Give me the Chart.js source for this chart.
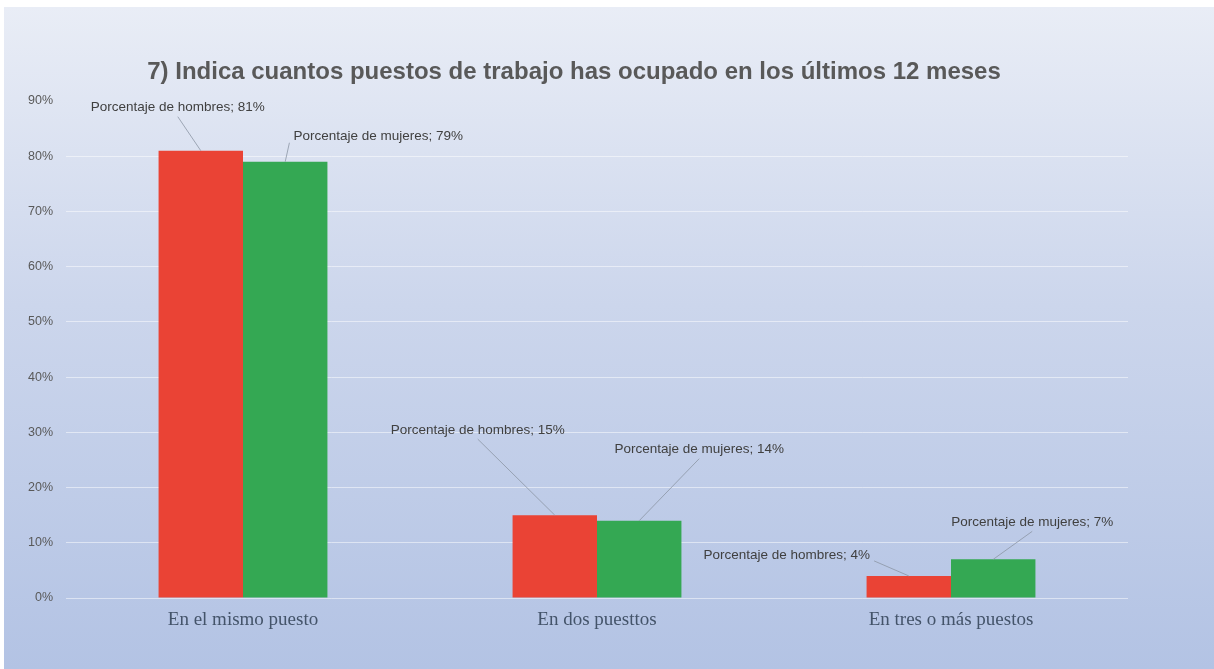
<!DOCTYPE html>
<html lang="es">
<head>
    <meta charset="UTF-8">
    <title>Puestos de trabajo ocupados</title>
    <script src="https://cdn.jsdelivr.net/npm/chart.js"></script>
    <style>
        html, body { margin: 0; padding: 0; background: #ffffff; }
        #wrap { width: 1214px; height: 669px; }
    </style>
</head>
<body>
    <div id="wrap"><canvas id="grafica" width="1214" height="669"></canvas></div>

    <script>
        // Datos de la encuesta (fracciones de 1)
        const categorias = ['En el mismo puesto', 'En dos puesttos', 'En tres o más puestos'];
        const hombres = [0.81, 0.15, 0.04];
        const mujeres = [0.79, 0.14, 0.07];
        const nombresSeries = ['Porcentaje de hombres', 'Porcentaje de mujeres'];
        const marcasEje = [0, 0.1, 0.2, 0.3, 0.4, 0.5, 0.6, 0.7, 0.8, 0.9];

        const titulo = '7) Indica cuantos puestos de trabajo has ocupado en los últimos 12 meses';

        // Posición de cada etiqueta respecto a la parte alta de su barra [serie][categoría]
        const desplEtiquetas = [
            [[-23, -43], [-77, -85], [-122, -21]],
            [[93, -25], [60, -71], [39, -37]]
        ];

        const fondo = {
            id: 'fondo',
            beforeDraw(chart) {
                const c = chart.ctx;
                c.save();
                c.fillStyle = '#ffffff';
                c.fillRect(0, 0, chart.width, chart.height);
                const g = c.createLinearGradient(0, 7, 0, chart.height);
                g.addColorStop(0, '#e9edf6');
                g.addColorStop(0.45, '#ccd6ec');
                g.addColorStop(1, '#b3c3e4');
                c.fillStyle = g;
                c.fillRect(4, 7, chart.width - 4, chart.height - 7);
                c.restore();
            }
        };

        const tituloPlugin = {
            id: 'titulo',
            afterDraw(chart) {
                const c = chart.ctx;
                c.save();
                c.font = 'bold 24px "Liberation Sans", Arial, sans-serif';
                c.fillStyle = '#595959';
                c.textAlign = 'center';
                c.textBaseline = 'middle';
                c.fillText(titulo, 574, 72);
                c.restore();
            }
        };

        // Etiquetas de datos con línea guía
        const etiquetas = {
            id: 'etiquetas',
            afterDatasetsDraw(chart) {
                const c = chart.ctx;
                c.save();
                c.font = '13.5px "Liberation Sans", Arial, sans-serif';
                c.textAlign = 'center';
                c.textBaseline = 'middle';
                chart.data.datasets.forEach((ds, i) => {
                    chart.getDatasetMeta(i).data.forEach((bar, j) => {
                        const texto = nombresSeries[i] + '; ' + Math.round(ds.data[j] * 100) + '%';
                        const [dx, dy] = desplEtiquetas[i][j];
                        const lx = bar.x + dx, ly = bar.y + dy;
                        const w = c.measureText(texto).width;
                        let ex, ey;
                        if (Math.abs(dx) > w / 2) {
                            ex = dx < 0 ? lx + w / 2 + 4 : lx - w / 2 - 4;
                            ey = ly + 6;
                        } else {
                            ex = lx;
                            ey = ly + 9;
                        }
                        c.strokeStyle = 'rgba(140,150,165,0.8)';
                        c.lineWidth = 1;
                        c.beginPath();
                        c.moveTo(bar.x, bar.y);
                        c.lineTo(ex, ey);
                        c.stroke();
                        c.fillStyle = '#404040';
                        c.fillText(texto, lx, ly);
                    });
                });
                c.restore();
            }
        };

        new Chart(document.getElementById('grafica'), {
            type: 'bar',
            data: {
                labels: categorias,
                datasets: [
                    { label: nombresSeries[0], data: hombres, backgroundColor: '#ea4335' },
                    { label: nombresSeries[1], data: mujeres, backgroundColor: '#34a853' }
                ]
            },
            options: {
                responsive: false,
                animation: false,
                layout: { padding: { top: 101, right: 86, left: 0, bottom: 0 } },
                datasets: { bar: { categoryPercentage: 0.477, barPercentage: 1.0 } },
                plugins: {
                    legend: { display: false },
                    tooltip: { enabled: false }
                },
                scales: {
                    x: {
                        grid: { display: false },
                        border: { display: false },
                        ticks: {
                            color: '#44546a',
                            font: { family: '"Liberation Serif", serif', size: 19 },
                            padding: 3
                        },
                        afterFit(axis) { axis.height = 71; }
                    },
                    y: {
                        min: 0,
                        max: 0.9,
                        afterBuildTicks(axis) { axis.ticks = marcasEje.map(v => ({ value: v })); },
                        grid: {
                            color: ctx => ctx.tick && ctx.tick.value > 0.85 ? 'rgba(0,0,0,0)' : 'rgba(255,255,255,0.5)',
                            lineWidth: 1,
                            drawTicks: false
                        },
                        border: { display: false },
                        ticks: {
                            color: '#595959',
                            font: { family: '"Liberation Sans", Arial, sans-serif', size: 12.5 },
                            padding: 13,
                            callback: v => Math.round(v * 100) + '%'
                        },
                        afterFit(axis) { axis.width = 66; }
                    }
                }
            },
            plugins: [fondo, tituloPlugin, etiquetas]
        });
    </script>
</body>
</html>
